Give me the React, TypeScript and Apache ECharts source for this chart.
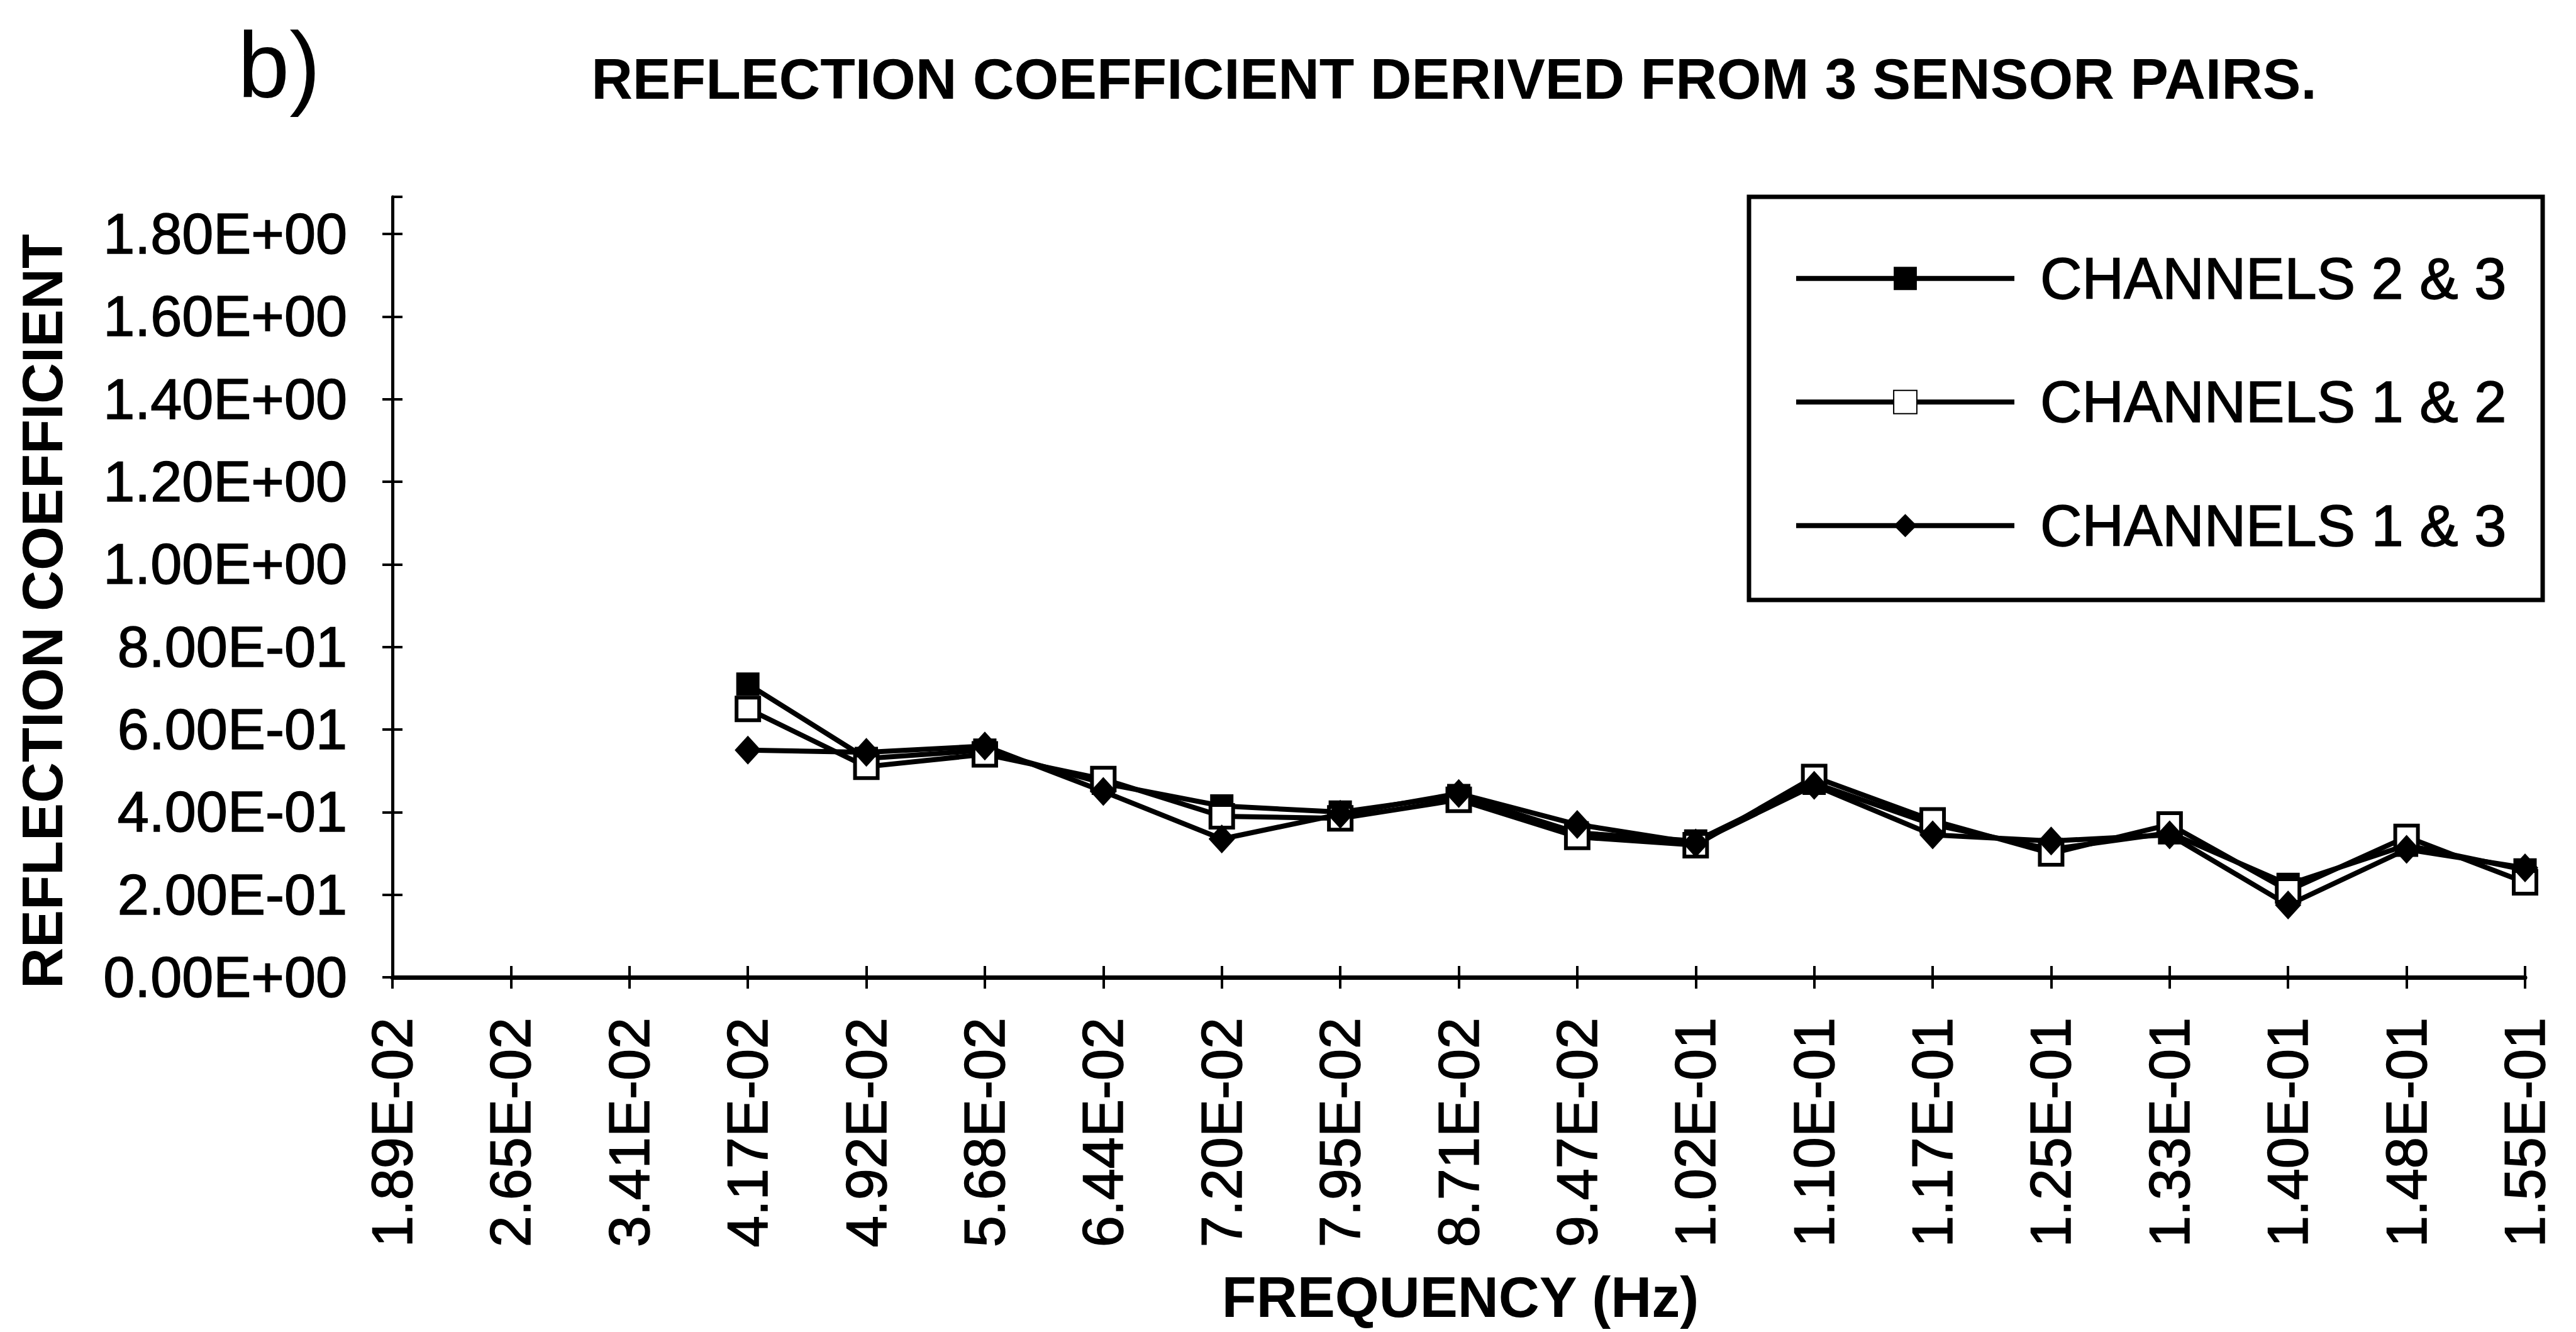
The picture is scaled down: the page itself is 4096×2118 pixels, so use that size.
import React, { useEffect, useRef } from 'react';
import * as echarts from 'echarts';

// Frequency bins (Hz) shown on the category axis
const frequencies = [
  '1.89E-02', '2.65E-02', '3.41E-02', '4.17E-02', '4.92E-02', '5.68E-02',
  '6.44E-02', '7.20E-02', '7.95E-02', '8.71E-02', '9.47E-02', '1.02E-01',
  '1.10E-01', '1.17E-01', '1.25E-01', '1.33E-01', '1.40E-01', '1.48E-01',
  '1.55E-01',
];

// Reflection coefficient per sensor pair (no estimate for the three lowest bins)
const channels23 = [
  null, null, null, 0.71, 0.53, 0.55, 0.47, 0.415, 0.40, 0.44,
  0.35, 0.33, 0.47, 0.37, 0.31, 0.35, 0.225, 0.32, 0.26,
];
const channels12 = [
  null, null, null, 0.65, 0.51, 0.54, 0.48, 0.39, 0.385, 0.43,
  0.34, 0.32, 0.485, 0.38, 0.30, 0.37, 0.21, 0.34, 0.23,
];
const channels13 = [
  null, null, null, 0.55, 0.545, 0.56, 0.45, 0.335, 0.395, 0.445,
  0.37, 0.325, 0.465, 0.345, 0.33, 0.345, 0.175, 0.31, 0.265,
];

const seriesNames = ['CHANNELS 2 & 3', 'CHANNELS 1 & 2', 'CHANNELS 1 & 3'];

const chartTitle = 'REFLECTION COEFFICIENT DERIVED FROM 3 SENSOR PAIRS.';
const panelTag = 'b)';
const xTitle = 'FREQUENCY (Hz)';
const yTitle = 'REFLECTION COEFFICIENT';

const FONT = '"Liberation Sans", Arial, Helvetica, sans-serif';

// Spreadsheet-style scientific notation, e.g. 1.80E+00
function sci(v: number): string {
  if (Math.abs(v) < 1e-12) return '0.00E+00';
  const exp = Math.floor(Math.log10(Math.abs(v)) + 1e-9);
  const mant = v / Math.pow(10, exp);
  const sign = exp < 0 ? '-' : '+';
  return mant.toFixed(2) + 'E' + sign + String(Math.abs(exp)).padStart(2, '0');
}

const Y_MAX = 1.89;
const LINE_W = 8;

export default function App() {
  const ref = useRef<HTMLDivElement>(null);

  useEffect(() => {
    const chart = echarts.init(ref.current as HTMLDivElement, null, { renderer: 'svg' });

    const tickStyle = { color: '#000', width: 4 };
    // heavy print look for the small texts
    const inkText = { textBorderColor: '#000', textBorderWidth: 1.5 };

    chart.setOption({
      animation: false,
      backgroundColor: '#fff',
      grid: { left: 624, right: 81, top: 313, bottom: 564, containLabel: false },
      xAxis: [
        {
          type: 'category',
          data: frequencies,
          boundaryGap: false,
          axisLine: { show: true, lineStyle: { color: '#000', width: 7 } },
          axisTick: { show: true, length: 18, interval: 0, lineStyle: tickStyle },
          axisLabel: {
            interval: 0,
            rotate: 90,
            margin: 64,
            fontSize: 90,
            fontFamily: FONT,
            color: '#000',
            ...inkText,
          },
          splitLine: { show: false },
        },
        {
          // inner half of the crossing tick marks
          type: 'category',
          data: frequencies,
          boundaryGap: false,
          position: 'bottom',
          axisLine: { show: false },
          axisTick: { show: true, inside: true, length: 18, interval: 0, lineStyle: tickStyle },
          axisLabel: { show: false },
          splitLine: { show: false },
        },
      ],
      yAxis: [
        {
          type: 'value',
          min: 0,
          max: Y_MAX,
          interval: 0.2,
          axisLine: { show: true, lineStyle: { color: '#000', width: 5 } },
          axisTick: { show: true, length: 16, lineStyle: tickStyle },
          axisLabel: {
            formatter: (v: number) => sci(v),
            showMaxLabel: false,
            margin: 72,
            fontSize: 90,
            fontFamily: FONT,
            color: '#000',
            ...inkText,
          },
          splitLine: { show: false },
        },
        {
          type: 'value',
          min: 0,
          max: Y_MAX,
          interval: 0.2,
          position: 'left',
          axisLine: { show: false },
          axisTick: { show: true, inside: true, length: 16, lineStyle: tickStyle },
          axisLabel: { show: false },
          splitLine: { show: false },
        },
      ],
      legend: {
        orient: 'vertical',
        left: 2852,
        top: 396,
        padding: 0,
        itemWidth: 347,
        itemHeight: 46,
        itemGap: 103,
        data: seriesNames,
        lineStyle: { color: '#000', width: LINE_W },
        textStyle: {
          fontSize: 92,
          lineHeight: 92,
          fontFamily: FONT,
          color: '#000',
          padding: [0, 0, 0, 36],
          ...inkText,
        },
      },
      series: [
        {
          name: seriesNames[0],
          type: 'line',
          data: channels23,
          symbol: 'rect',
          symbolSize: 37,
          showAllSymbol: true,
          lineStyle: { color: '#000', width: LINE_W },
          itemStyle: { color: '#000', borderColor: '#000', borderWidth: 0 },
        },
        {
          name: seriesNames[1],
          type: 'line',
          data: channels12,
          symbol: 'rect',
          symbolSize: 36,
          showAllSymbol: true,
          lineStyle: { color: '#000', width: LINE_W },
          itemStyle: { color: '#fff', borderColor: '#000', borderWidth: 6 },
        },
        {
          name: seriesNames[2],
          type: 'line',
          data: channels13,
          symbol: 'diamond',
          symbolSize: [42, 46],
          showAllSymbol: true,
          lineStyle: { color: '#000', width: LINE_W },
          itemStyle: { color: '#000', borderColor: '#000', borderWidth: 0 },
        },
      ],
      graphic: [
        {
          type: 'rect',
          shape: { x: 2781, y: 313, width: 1262, height: 641 },
          style: { fill: 'none', stroke: '#000', lineWidth: 7 },
          z: 10,
        },
        {
          type: 'text',
          x: 2312,
          y: 125,
          style: {
            text: chartTitle,
            fill: '#000',
            fontSize: 91,
            fontWeight: 'bold',
            fontFamily: FONT,
            align: 'center',
            verticalAlign: 'middle',
          },
        },
        {
          type: 'text',
          x: 378,
          y: 103,
          style: {
            text: panelTag,
            fill: '#000',
            fontSize: 148,
            fontFamily: FONT,
            align: 'left',
            verticalAlign: 'middle',
          },
        },
        {
          type: 'text',
          x: 2322,
          y: 2063,
          style: {
            text: xTitle,
            fill: '#000',
            fontSize: 90,
            fontWeight: 'bold',
            fontFamily: FONT,
            align: 'center',
            verticalAlign: 'middle',
          },
        },
        {
          type: 'text',
          x: 68,
          y: 972,
          rotation: Math.PI / 2,
          style: {
            text: yTitle,
            fill: '#000',
            fontSize: 90,
            fontWeight: 'bold',
            fontFamily: FONT,
            align: 'center',
            verticalAlign: 'middle',
          },
        },
      ],
    });

    return () => chart.dispose();
  }, []);

  return (
    <div
      ref={ref}
      style={{ position: 'fixed', left: 0, top: 0, width: 4096, height: 2118, background: '#fff' }}
    />
  );
}
